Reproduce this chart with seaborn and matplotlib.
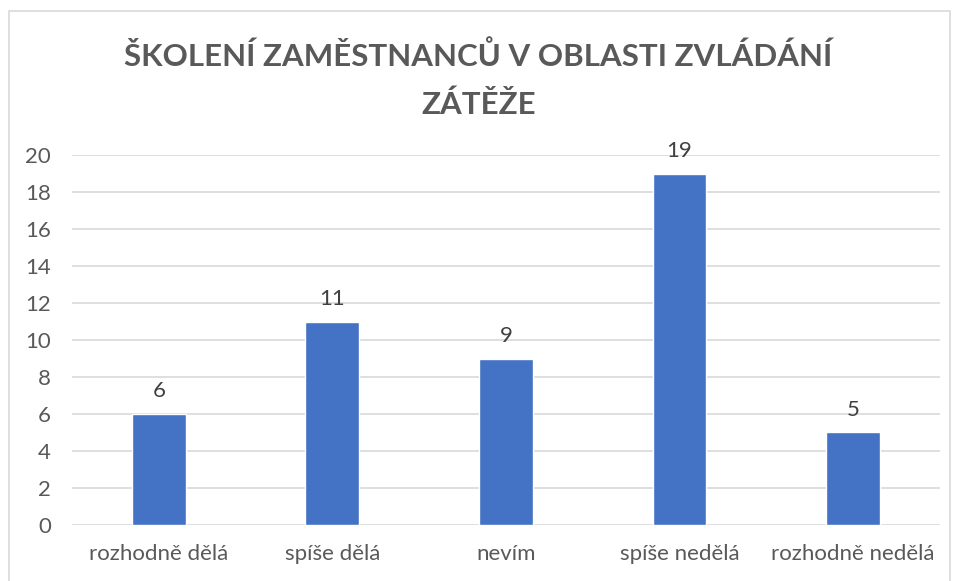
import matplotlib
matplotlib.use("Agg")
import matplotlib.pyplot as plt
import seaborn as sns
import pandas as pd

# data
categories = ['rozhodně dělá', 'spíše dělá', 'nevím', 'spíše nedělá', 'rozhodně nedělá']
counts = [6, 11, 9, 19, 5]
title = 'ŠKOLENÍ ZAMĚSTNANCŮ V OBLASTI ZVLÁDÁNÍ\nZÁTĚŽE'

sns.set_theme(style='white')
plt.rcParams['font.family'] = ['Lato', 'DejaVu Sans']

df = pd.DataFrame({'odpoved': categories, 'pocet': counts})

fig = plt.figure(figsize=(9.57, 5.81), dpi=100)
ax = fig.add_axes([0.0752, 0.0964, 0.907, 0.6368])

sns.barplot(data=df, x='odpoved', y='pocet', color='#4472C4', width=0.31,
            saturation=1, ax=ax, zorder=3)

ax.set_ylim(0, 20)
ax.set_yticks(range(0, 21, 2))
ax.set_xlim(-0.5, 4.5)
ax.grid(axis='y', color='#D9D9D9', linewidth=1.2, zorder=0)
for s in ax.spines.values():
    s.set_visible(False)
ax.tick_params(axis='both', length=0, labelsize=16, colors='#595959')
ax.tick_params(axis='y', pad=15)
ax.tick_params(axis='x', pad=14)
ax.set_xlabel('')
ax.set_ylabel('')

for i, v in enumerate(counts):
    ax.text(i, v + 0.7, str(v), ha='center', va='bottom', fontsize=16, color='#404040')

fig.text(0.5, 0.862, title, ha='center', va='center', fontsize=22.5, fontweight='bold',
         color='#595959', linespacing=1.8)

# chart border like in Excel
border = plt.Rectangle((9 / 957, -0.01), 941 / 957, 1 - 11 / 581 + 0.01, transform=fig.transFigure,
                       fill=False, edgecolor='#D9D9D9', linewidth=1.2)
fig.patches.append(border)

fig.savefig('out.png', dpi=100)
